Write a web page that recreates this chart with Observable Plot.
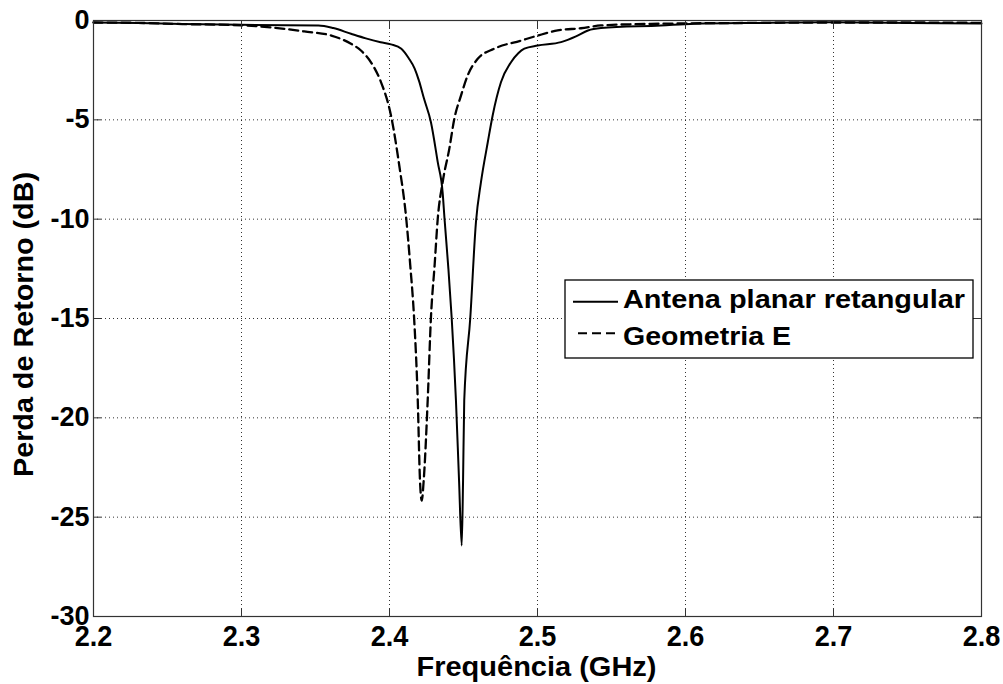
<!DOCTYPE html>
<html>
<head>
<meta charset="utf-8">
<script src="https://cdn.jsdelivr.net/npm/d3@7"></script>
<script src="https://cdn.jsdelivr.net/npm/@observablehq/plot@0.6"></script>
<style>
  body { margin: 0; background: #fff; }
  #chart { position: relative; width: 1003px; height: 684px; }
</style>
</head>
<body>
<div id="chart"></div>
<script>
// ---- data ----
const seriesNames = ["Antena planar retangular", "Geometria E"];
const xTitle = "Frequência (GHz)";
const yTitle = "Perda de Retorno (dB)";
const xTicks = [2.2, 2.3, 2.4, 2.5, 2.6, 2.7, 2.8];
const yTicks = [0, -5, -10, -15, -20, -25, -30];

const freqAntena = [2.200, 2.230, 2.260, 2.300, 2.330, 2.352, 2.362, 2.374, 2.384, 2.394, 2.401, 2.408, 2.413, 2.417, 2.420, 2.4233, 2.428, 2.4326, 2.4359, 2.4372, 2.4398, 2.442, 2.4449, 2.447, 2.4488, 2.4497, 2.4505, 2.4546, 2.4584, 2.4618, 2.4664, 2.4697, 2.4753, 2.4821, 2.4870, 2.4911, 2.5001, 2.5159, 2.526, 2.5341, 2.5429, 2.5834, 2.6057, 2.650, 2.6961, 2.750, 2.800];
const dbAntena   = [-0.10, -0.12, -0.18, -0.22, -0.24, -0.25, -0.38, -0.67, -0.90, -1.09, -1.20, -1.42, -1.90, -2.42, -3.05, -3.93, -5.12, -7.13, -8.65, -10.0, -12.5, -14.95, -19.13, -23.16, -26.43, -23.16, -19.13, -14.95, -10.16, -8.14, -6.13, -4.78, -3.11, -2.10, -1.65, -1.42, -1.26, -1.09, -0.80, -0.50, -0.38, -0.25, -0.16, -0.12, -0.09, -0.12, -0.15];

const freqGeo = [2.200, 2.230, 2.260, 2.300, 2.320, 2.3424, 2.3607, 2.374, 2.3807, 2.3895, 2.3943, 2.4010, 2.4066, 2.4111, 2.4140, 2.4166, 2.4191, 2.4206, 2.4218, 2.4231, 2.4258, 2.4280, 2.4305, 2.4326, 2.4359, 2.4404, 2.4438, 2.4483, 2.4528, 2.4596, 2.4708, 2.4889, 2.5001, 2.5136, 2.5294, 2.5429, 2.5767, 2.650, 2.700, 2.750, 2.800];
const dbGeo   = [-0.10, -0.12, -0.18, -0.24, -0.35, -0.55, -0.76, -1.17, -1.51, -2.35, -3.11, -4.78, -7.30, -9.82, -12.3, -14.95, -19.13, -23.16, -24.17, -23.16, -19.13, -14.95, -12.3, -9.98, -8.14, -6.46, -4.95, -3.78, -2.77, -1.93, -1.42, -1.01, -0.76, -0.50, -0.39, -0.25, -0.17, -0.12, -0.10, -0.10, -0.12];

const antena = freqAntena.map((f, i) => ({f, db: dbAntena[i]}));
const geo = freqGeo.map((f, i) => ({f, db: dbGeo[i]}));

const font = "'Liberation Sans', Arial, Helvetica, sans-serif";

const chart = Plot.plot({
  width: 1003,
  height: 684,
  marginLeft: 93,
  marginRight: 22,
  marginTop: 20,
  marginBottom: 68,
  style: {fontFamily: font, background: "#fff", color: "#000", overflow: "visible"},
  x: {domain: [2.2, 2.8]},
  y: {domain: [-30, 0]},
  marks: [
    Plot.gridX(xTicks, {stroke: "#000", strokeOpacity: 0.8, strokeDasharray: "1,3"}),
    Plot.gridY(yTicks, {stroke: "#000", strokeOpacity: 0.8, strokeDasharray: "1,3"}),
    Plot.line(antena, {x: "f", y: "db", stroke: "#000", strokeWidth: 2, curve: "monotone-x"}),
    Plot.line(geo, {x: "f", y: "db", stroke: "#000", strokeWidth: 2.3, strokeDasharray: "9,5", curve: "monotone-x"}),
    Plot.frame({stroke: "#333", strokeWidth: 1.2}),
    Plot.axisX(xTicks, {anchor: "bottom", tickSize: 0, tickPadding: 8, tickFormat: d => d.toFixed(1), fontSize: 30, fontWeight: "bold", label: null}),
    Plot.axisY(yTicks, {anchor: "left", tickSize: 0, tickPadding: 4, tickFormat: d => String(d), fontSize: 27, fontWeight: "bold", label: null}),
    Plot.axisX(xTicks, {anchor: "bottom", tickSize: 8, dy: -8, fill: "none", stroke: "#333", label: null}),
    Plot.axisX(xTicks, {anchor: "top", tickSize: 8, dy: 8, fill: "none", stroke: "#333", label: null}),
    Plot.axisY(yTicks, {anchor: "left", tickSize: 8, dx: 8, fill: "none", stroke: "#333", label: null}),
    Plot.axisY(yTicks, {anchor: "right", tickSize: 8, dx: -8, fill: "none", stroke: "#333", label: null})
  ]
});

document.getElementById("chart").appendChild(chart);

// condensed x tick labels
chart.querySelectorAll('g[aria-label="x-axis tick label"] text').forEach(t => {
  t.setAttribute("textLength", 37.7);
  t.setAttribute("lengthAdjust", "spacingAndGlyphs");
});

const svg = d3.select(chart);

// axis titles
svg.append("text")
  .attr("x", 536.5).attr("y", 676)
  .attr("text-anchor", "middle")
  .attr("font-family", font).attr("font-weight", "bold").attr("font-size", 28)
  .attr("textLength", 240).attr("lengthAdjust", "spacingAndGlyphs")
  .attr("fill", "#000")
  .text(xTitle);

svg.append("text")
  .attr("transform", "translate(33,324.5) rotate(-90)")
  .attr("text-anchor", "middle")
  .attr("font-family", font).attr("font-weight", "bold").attr("font-size", 27)
  .attr("textLength", 305).attr("lengthAdjust", "spacingAndGlyphs")
  .attr("fill", "#000")
  .text(yTitle);

// legend
const lg = svg.append("g").attr("aria-label", "legend").attr("text-anchor", "start");
lg.append("rect")
  .attr("x", 565).attr("y", 280).attr("width", 408).attr("height", 78)
  .attr("fill", "#fff").attr("stroke", "#000").attr("stroke-width", 1.3);
const legendRows = [
  {name: seriesNames[0], dash: null, x1: 573, x2: 618, ly: 301.7, ty: 308.3, len: 342},
  {name: seriesNames[1], dash: "9,5", x1: 578, x2: 618, ly: 333.3, ty: 345, len: 168}
];
legendRows.forEach(r => {
  lg.append("line")
    .attr("x1", r.x1).attr("x2", r.x2).attr("y1", r.ly).attr("y2", r.ly)
    .attr("stroke", "#000").attr("stroke-width", 2)
    .attr("stroke-dasharray", r.dash);
  lg.append("text")
    .attr("x", 623).attr("y", r.ty)
    .attr("text-anchor", "start")
    .attr("font-family", font).attr("font-weight", "bold").attr("font-size", 26)
    .attr("textLength", r.len).attr("lengthAdjust", "spacingAndGlyphs")
    .attr("fill", "#000")
    .text(r.name);
});
</script>
</body>
</html>
